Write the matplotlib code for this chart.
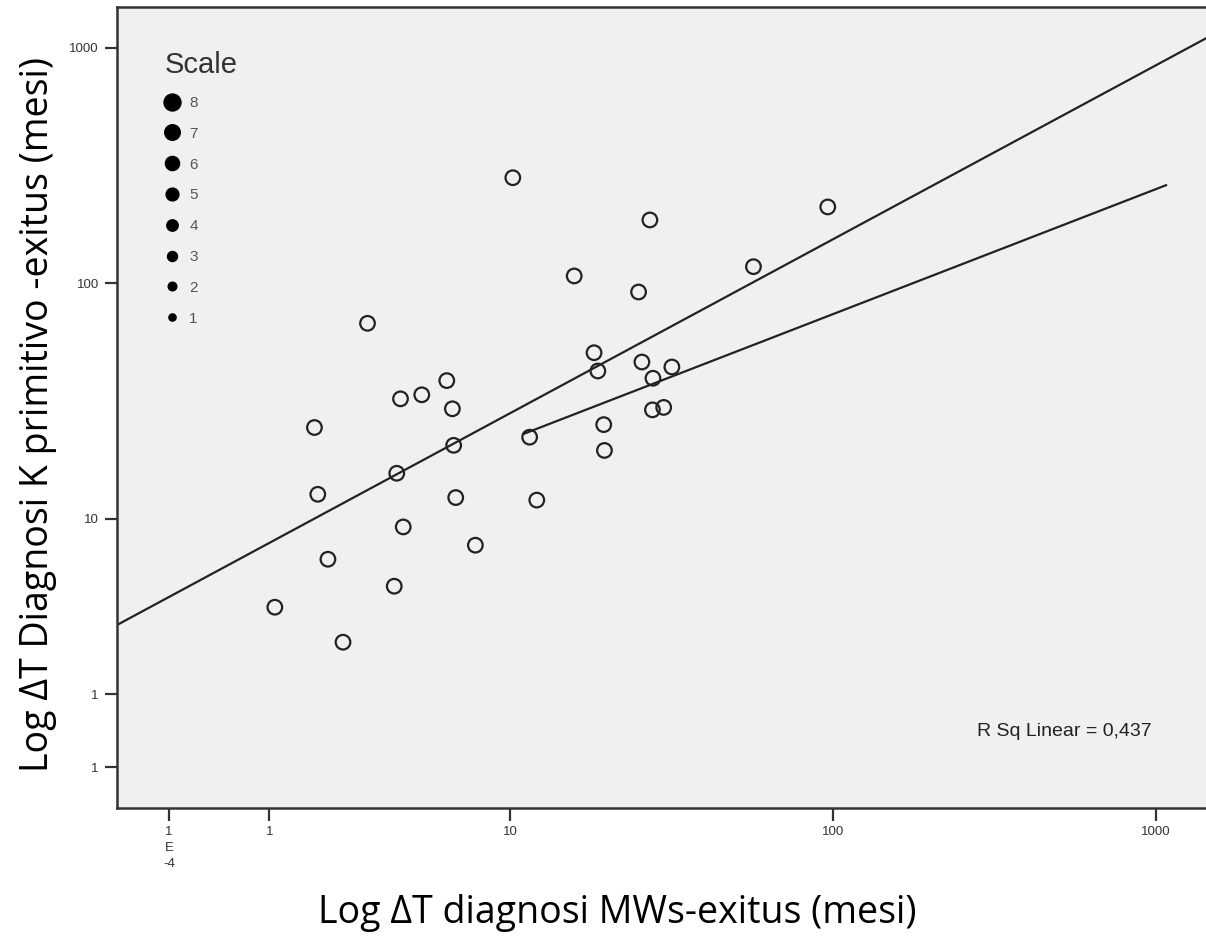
import numpy as np
import matplotlib.pyplot as plt
from matplotlib.lines import Line2D
from matplotlib.ticker import FixedLocator, FixedFormatter, NullLocator

# months from MWs diagnosis to death (x) and from primary K diagnosis to death (y)
dt_mws = [10.2, 27.1, 96.3, 15.8, 56.7, 25.0, 3.62, 18.2, 18.7, 25.6, 31.7,
          27.7, 6.37, 5.33, 4.58, 6.63, 27.6, 29.9, 2.48, 11.5, 19.5, 6.69,
          19.6, 4.46, 2.54, 6.79, 12.1, 4.67, 7.81, 2.73, 4.38, 1.87, 3.04]
dt_kprim = [280.7, 185.7, 210.9, 107.4, 117.6, 91.8, 67.6, 50.7, 42.4, 46.3,
            44.1, 39.5, 38.6, 33.6, 32.3, 29.3, 29.0, 29.7, 24.4, 22.2, 25.1,
            20.5, 19.5, 15.6, 12.7, 12.3, 12.0, 9.23, 7.72, 6.73, 5.17, 4.21,
            2.99]

# fit lines in log10 space: (intercept, slope)
fit_all = (0.709, 0.739)
fit_sub = (0.807, 0.531)
fit_sub_range = [11.0, 1074]
r_sq = "0,437"

scale_levels = [8, 7, 6, 5, 4, 3, 2, 1]

tick_vals = [0.88, 1.8, 10, 100, 1000]
x_tick_labels = ['1\nE\n-4', '1', '10', '100', '1000']
y_tick_labels = ['1', '1', '10', '100', '1000']


def main():
    fig = plt.figure(figsize=(12.06, 9.40), dpi=100)
    ax = fig.add_axes([117/1206, 132/940, 1113/1206, 801/940])
    ax.set_facecolor('#f0f0f0')
    ax.set_xscale('log')
    ax.set_yscale('log')
    ax.set_xlim(0.607, 1694)
    ax.set_ylim(0.591, 1490)

    ax.scatter(dt_mws, dt_kprim, s=10.5**2, facecolors='none',
               edgecolors='#222222', linewidths=1.6, zorder=3)

    xs = np.array(ax.get_xlim())
    ax.plot(xs, 10**(fit_all[0] + fit_all[1]*np.log10(xs)), color='#222222',
            lw=1.6, zorder=2)
    xs2 = np.array(fit_sub_range)
    ax.plot(xs2, 10**(fit_sub[0] + fit_sub[1]*np.log10(xs2)), color='#222222',
            lw=1.6, zorder=2)

    ax.text((977-117)/1113, (808-731)/801, 'R Sq Linear = ' + r_sq,
            transform=ax.transAxes, fontsize=14, family='Liberation Sans',
            color='#222222', ha='left', va='center')

    for a in (ax.xaxis, ax.yaxis):
        a.set_major_locator(FixedLocator(tick_vals))
        a.set_minor_locator(NullLocator())
    ax.xaxis.set_major_formatter(FixedFormatter(x_tick_labels))
    ax.yaxis.set_major_formatter(FixedFormatter(y_tick_labels))
    ax.tick_params(length=9, width=1.6, color='#333333', labelsize=9.5,
                   labelcolor='#333333', pad=4)
    for lab in ax.get_xticklabels() + ax.get_yticklabels():
        lab.set_family('Liberation Sans')
        lab.set_linespacing(1.45)
    for sp in ax.spines.values():
        sp.set_color('#333333')
        sp.set_linewidth(1.8)

    handles = [Line2D([], [], ls='', marker='o', color='black',
                      markersize=4.2 + 1.0*lvl) for lvl in scale_levels]
    leg = ax.legend(handles, [str(l) for l in scale_levels], title='Scale',
                    loc='upper left', bbox_to_anchor=(0.0305, 0.962),
                    frameon=False, handlelength=1.0, handletextpad=0.6,
                    labelspacing=1.1, alignment='left',
                    prop={'family': 'Liberation Sans', 'size': 11},
                    title_fontproperties={'family': 'Liberation Sans', 'size': 21})
    for t in leg.get_texts():
        t.set_color('#555555')
    leg.get_title().set_color('#333333')

    fig.text(617/1206, 1 - 913/940, 'Log ΔT diagnosi MWs-exitus (mesi)',
             fontsize=27, family='Open Sans', ha='center', va='center')
    fig.text(38/1206, 1 - 414/940, 'Log ΔT Diagnosi K primitivo -exitus (mesi)',
             fontsize=27, family='Open Sans', ha='center', va='center', rotation=90)

    fig.savefig('out.png', dpi=100)


if __name__ == '__main__':
    main()
